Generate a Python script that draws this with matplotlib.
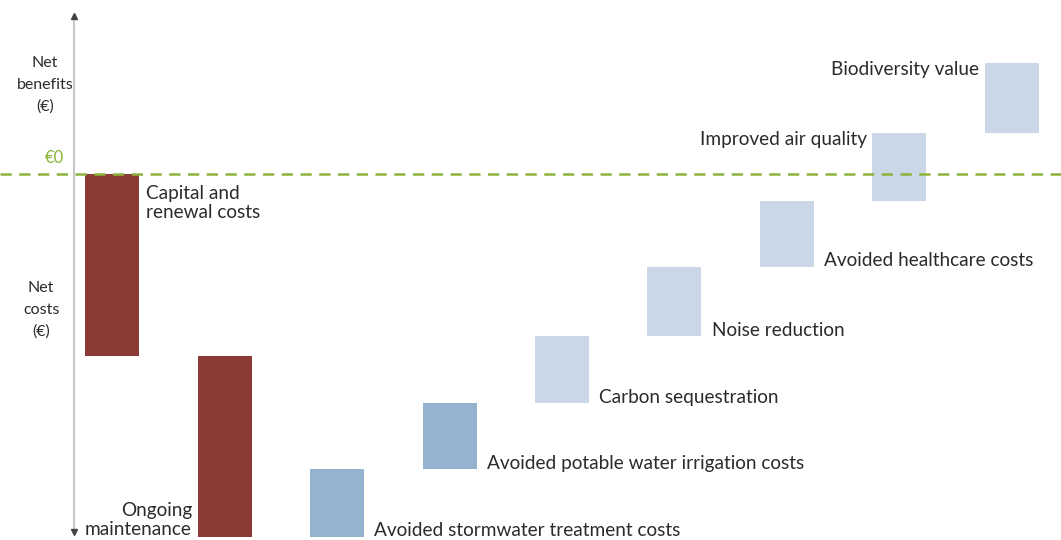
import numpy as np
import matplotlib.pyplot as plt

# waterfall steps (arbitrary cost/benefit units)
labels = ["Capital and\nrenewal costs", "Ongoing\nmaintenance",
          "Avoided stormwater treatment costs", "Avoided potable water irrigation costs",
          "Carbon sequestration", "Noise reduction", "Avoided healthcare costs",
          "Improved air quality", "Biodiversity value"]
values = [-182, -181, 68, 66, 67, 69, 66, 68, 70]
colors = ["#8b3a36", "#8b3a36", "#93b3cf", "#93b3cf",
          "#c9d7e7", "#c9d7e7", "#c9d7e7", "#c9d7e7", "#c9d7e7"]

txt = "#2b2b2b"
plt.rcParams['font.family'] = ['Lato', 'DejaVu Sans']

fig = plt.figure(figsize=(10.61, 5.40), dpi=100)
ax = fig.add_axes([0, 0, 1, 1])

x = np.arange(len(values))
ends = np.cumsum(values)
starts = ends - np.array(values)
bottoms = np.minimum(starts, ends)
heights = np.abs(values)
w = 0.48
ax.bar(x, heights, bottom=bottoms, width=w, color=colors, zorder=2)

# zero line
ax.axhline(0, color="#8db33a", lw=1.8, ls=(0, (4.5, 3)), zorder=3)

# vertical axis with arrows
ax_x = -0.338
ax.plot([ax_x, ax_x], [-358, 158], color="#c8c8c8", lw=1.5, zorder=1)
ax.plot(ax_x, 158, marker="^", color="#444444", ms=4)
ax.plot(ax_x, -358, marker="v", color="#444444", ms=4)

side = dict(fontsize=11.5, color=txt, linespacing=1.7, ha="center", va="center")
ax.text(-0.595, 89, "Net\nbenefits\n(€)", **side)
ax.text(-0.43, 16, "€0", ha="right", va="center", fontsize=12, color="#8db33a")
ax.text(-0.63, -136, "Net\ncosts\n(€)", **side)

fs = 13.7
# label placement
ax.text(x[0] + w / 2 + 0.06, starts[0] - 29, labels[0], ha="left", va="center",
        fontsize=fs, color=txt, linespacing=1.15)
ax.text(x[1] - w / 2 - 0.05, ends[1] + 17, labels[1], ha="right", va="center",
        fontsize=fs, color=txt, linespacing=1.2)
for i in range(2, 7):
    ax.text(x[i] + w / 2 + 0.09, bottoms[i] + 6, labels[i], ha="left", va="center",
            fontsize=fs, color=txt)
for i in (7, 8):
    ax.text(x[i] - w / 2 - 0.05, ends[i] - 7, labels[i], ha="right", va="center",
            fontsize=fs, color=txt)

ax.set_xlim(-0.996, 8.436)
ax.set_ylim(-366, 174)
ax.axis("off")

fig.savefig("out.png", dpi=100)
